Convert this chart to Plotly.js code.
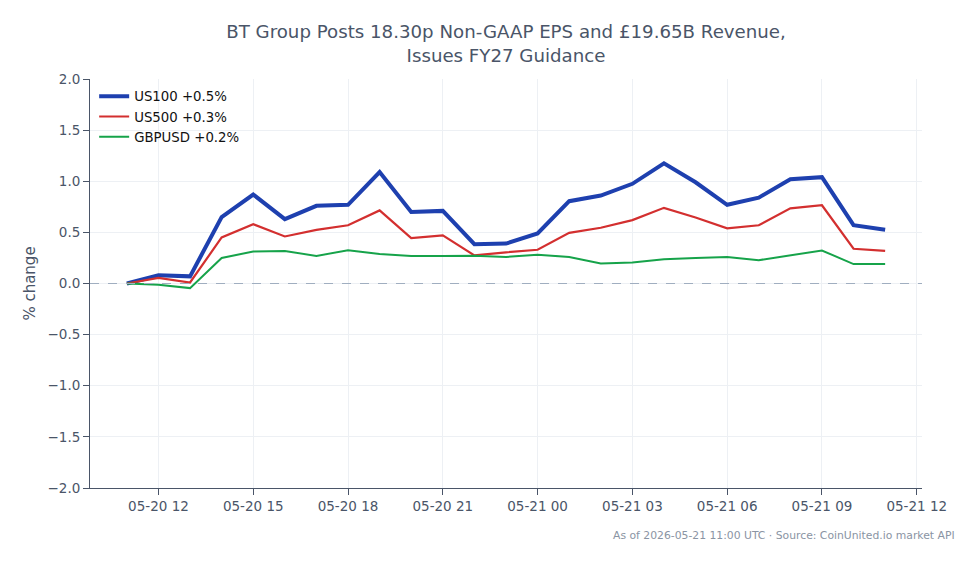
<!DOCTYPE html>
<html>
<head>
<meta charset="utf-8">
<script src="https://cdn.plot.ly/plotly-3.0.1.min.js"></script>
<style>html,body{margin:0;padding:0;background:#fff;}#chart{width:979px;height:564px;}</style>
</head>
<body>
<div id="chart"></div>
<script>
const times = [
  "2026-05-20 11:00","2026-05-20 12:00","2026-05-20 13:00","2026-05-20 14:00","2026-05-20 15:00",
  "2026-05-20 16:00","2026-05-20 17:00","2026-05-20 18:00","2026-05-20 19:00","2026-05-20 20:00",
  "2026-05-20 21:00","2026-05-20 22:00","2026-05-20 23:00","2026-05-21 00:00","2026-05-21 01:00",
  "2026-05-21 02:00","2026-05-21 03:00","2026-05-21 04:00","2026-05-21 05:00","2026-05-21 06:00",
  "2026-05-21 07:00","2026-05-21 08:00","2026-05-21 09:00","2026-05-21 10:00","2026-05-21 11:00"
];
const us100 = [0.0,0.08,0.07,0.65,0.87,0.63,0.76,0.77,1.09,0.70,0.71,0.385,0.39,0.49,0.805,0.86,0.975,1.175,0.99,0.77,0.84,1.02,1.04,0.57,0.525];
const us500 = [0.0,0.055,0.01,0.45,0.58,0.46,0.525,0.57,0.715,0.445,0.47,0.275,0.305,0.33,0.495,0.545,0.62,0.74,0.645,0.54,0.57,0.735,0.765,0.34,0.32];
const gbpusd = [0.0,-0.012,-0.045,0.25,0.313,0.318,0.27,0.325,0.288,0.268,0.27,0.272,0.26,0.282,0.26,0.195,0.205,0.237,0.25,0.26,0.228,0.272,0.323,0.19,0.19];
const names = ["US100 +0.5%","US500 +0.3%","GBPUSD +0.2%"];
const xTickVals = ["2026-05-20 12:00","2026-05-20 15:00","2026-05-20 18:00","2026-05-20 21:00","2026-05-21 00:00","2026-05-21 03:00","2026-05-21 06:00","2026-05-21 09:00","2026-05-21 12:00"];
const xTickText = ["05-20 12","05-20 15","05-20 18","05-20 21","05-21 00","05-21 03","05-21 06","05-21 09","05-21 12"];
const yTicks = [-2,-1.5,-1,-0.5,0,0.5,1,1.5,2];
const yTickText = ["\u22122.0","\u22121.5","\u22121.0","\u22120.5","0.0","0.5","1.0","1.5","2.0"];

const font = "DejaVu Sans, sans-serif";
const traces = [
  {x: times, y: us100, name: names[0], type: "scatter", mode: "lines", line: {color: "#1e40af", width: 4}},
  {x: times, y: us500, name: names[1], type: "scatter", mode: "lines", line: {color: "#d32f2f", width: 2.2}},
  {x: times, y: gbpusd, name: names[2], type: "scatter", mode: "lines", line: {color: "#16a34a", width: 2}}
];
const layout = {
  width: 979, height: 564,
  margin: {l: 90, r: 57, t: 79, b: 76},
  paper_bgcolor: "#ffffff", plot_bgcolor: "#ffffff",
  font: {family: font, color: "#4a5568", size: 13.5},
  title: {text: "BT Group Posts 18.30p Non-GAAP EPS and £19.65B Revenue,<br>Issues FY27 Guidance",
          x: 0.5, xref: "paper", xanchor: "center", y: 0.932, yref: "container", yanchor: "middle",
          font: {family: font, size: 18.2, color: "#4a5568"}},
  showlegend: true,
  legend: {x: 0.005, y: 0.995, xanchor: "left", yanchor: "top", bgcolor: "rgba(255,255,255,0)",
           itemwidth: 30,
           font: {family: font, size: 13.3, color: "#111"}, tracegroupgap: 0},
  xaxis: {type: "date", range: ["2026-05-20 09:50", "2026-05-21 12:10"],
          tickvals: xTickVals, ticktext: xTickText,
          showgrid: true, gridcolor: "#edf0f4", showline: true, linecolor: "#4a5568", linewidth: 1,
          ticks: "outside", ticklen: 6, tickcolor: "#4a5568", zeroline: false,
          tickfont: {family: font, size: 13.5, color: "#4a5568"}},
  yaxis: {range: [-2, 2], tickvals: yTicks, ticktext: yTickText,
          title: {text: "% change", font: {family: font, size: 15, color: "#4a5568"}, standoff: 8},
          showgrid: true, gridcolor: "#edf0f4", showline: true, linecolor: "#4a5568", linewidth: 1,
          ticks: "outside", ticklen: 6, tickcolor: "#4a5568", zeroline: false,
          tickfont: {family: font, size: 13.5, color: "#4a5568"}},
  shapes: [{type: "line", xref: "paper", x0: 0, x1: 1, yref: "y", y0: 0, y1: 0,
            line: {color: "#a0aec0", width: 1.2, dash: "dash"}}],
  annotations: [{text: "As of 2026-05-21 11:00 UTC · Source: CoinUnited.io market API",
                 xref: "paper", yref: "paper", x: 1.042, y: -0.115, xanchor: "right", yanchor: "middle",
                 showarrow: false, font: {family: font, size: 10.8, color: "#8a94a3"}}]
};
Plotly.newPlot("chart", traces, layout, {displayModeBar: false, responsive: false});
</script>
</body>
</html>
